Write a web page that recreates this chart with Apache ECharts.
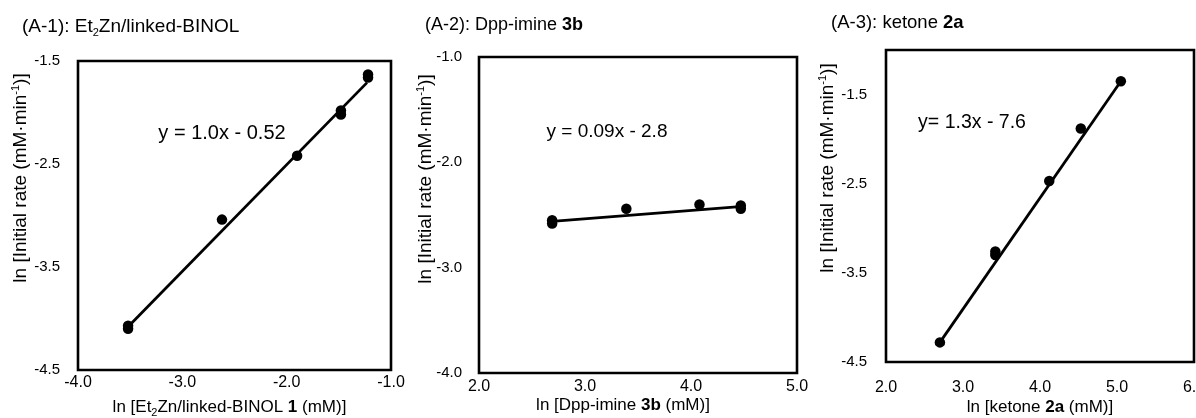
<!DOCTYPE html>
<html>
<head>
<meta charset="utf-8">
<script src="https://cdn.jsdelivr.net/npm/echarts@6/dist/echarts.min.js"></script>
<style>
html,body{margin:0;padding:0;background:#fff;}
#c{width:1196px;height:418px;}
</style>
</head>
<body>
<div id="c"></div>
<script>
// ---- Panel A-1: Et2Zn/linked-BINOL ----
const a1X = [-3.52, -3.52, -2.62, -1.90, -1.48, -1.48, -1.22, -1.22];
const a1Y = [-4.07, -4.10, -3.04, -2.42, -1.98, -2.02, -1.63, -1.66];
const a1FitX = [-3.52, -1.23];
const a1FitY = [-4.08, -1.71];
const a1XTicks = [-4.0, -3.0, -2.0, -1.0];
const a1YTicks = [-4.5, -3.5, -2.5, -1.5];

// ---- Panel A-2: Dpp-imine 3b ----
const a2X = [2.69, 2.69, 3.39, 4.08, 4.47, 4.47];
const a2Y = [-2.55, -2.58, -2.44, -2.40, -2.41, -2.44];
const a2FitX = [2.69, 4.46];
const a2FitY = [-2.56, -2.42];
const a2XTicks = [2.0, 3.0, 4.0, 5.0];
const a2YTicks = [-4.0, -3.0, -2.0, -1.0];

// ---- Panel A-3: ketone 2a ----
const a3X = [2.70, 3.42, 3.42, 4.12, 4.53, 5.05];
const a3Y = [-4.28, -3.26, -3.30, -2.47, -1.88, -1.35];
const a3FitX = [2.70, 5.05];
const a3FitY = [-4.28, -1.35];
const a3XTicks = [2.0, 3.0, 4.0, 5.0, 6.0];
const a3YTicks = [-4.5, -3.5, -2.5, -1.5];

const titles = ['(A-1): Et{sub|2}Zn/linked-BINOL', '(A-2): Dpp-imine {b|3b}', '(A-3): ketone {b|2a}'];
const equations = ['y = 1.0x - 0.52', 'y = 0.09x - 2.8', 'y= 1.3x - 7.6'];
const xNames = ['ln [Et{sub|2}Zn/linked-BINOL {b|1} (mM)]', 'ln [Dpp-imine {b|3b} (mM)]', 'ln [ketone {b|2a} (mM)]'];
const yName = 'ln [Initial rate (mM·min{sup|-1})]';

const FONT = '"Liberation Sans", Arial, Helvetica, sans-serif';
function richSized(fs) {
  return {
    sub: {fontSize: 11, lineHeight: 11, verticalAlign: 'bottom', fontFamily: FONT, color: '#000', fill: '#000'},
    sup: {fontSize: 11, lineHeight: 11, verticalAlign: 'top', fontFamily: FONT, color: '#000', fill: '#000'},
    b: {fontWeight: 'bold', fontSize: fs, fontFamily: FONT, color: '#000', fill: '#000'}
  };
}
function zip(a, b) { return a.map((v, i) => [v, b[i]]); }

const grids = [
  {left: 78, top: 61, width: 313, height: 309},
  {left: 479, top: 57, width: 318, height: 316},
  {left: 886, top: 50, width: 308, height: 312}
].map(g => Object.assign(g, {show: true, borderColor: '#000', borderWidth: 2.6, backgroundColor: 'transparent', outerBoundsMode: 'none', containLabel: false}));

function xAxis(i, min, max, ticks, name, gap, margin, pad) {
  return {
    type: 'value', gridIndex: i, min: min, max: max,
    axisLine: {show: false}, axisTick: {show: false}, splitLine: {show: false},
    axisLabel: {customValues: ticks, formatter: v => v.toFixed(1), color: '#000', fontSize: 16, fontFamily: FONT, margin: margin},
    name: name, nameLocation: 'middle', nameGap: gap, nameMoveOverlap: false,
    nameTextStyle: {color: '#000', fontSize: 17, fontFamily: FONT, lineHeight: 22, padding: pad, rich: richSized(17)}
  };
}
function yAxis(i, min, max, ticks, margin) {
  return {
    type: 'value', gridIndex: i, min: min, max: max,
    axisLine: {show: false}, axisTick: {show: false}, splitLine: {show: false},
    axisLabel: {customValues: ticks, formatter: v => v.toFixed(1), color: '#000', fontSize: 15, fontFamily: FONT, margin: margin}
  };
}
function scatter(i, xs, ys) {
  return {type: 'scatter', xAxisIndex: i, yAxisIndex: i, data: zip(xs, ys), symbol: 'circle', symbolSize: 10.5, itemStyle: {color: '#000', opacity: 1}, z: 3, silent: true};
}
function fit(i, xs, ys) {
  return {type: 'line', xAxisIndex: i, yAxisIndex: i, data: zip(xs, ys), showSymbol: false, lineStyle: {color: '#000', width: 2.8}, z: 2, silent: true};
}
function txt(x, y, text, fs, align, rot) {
  return {
    type: 'text', x: x, y: y, rotation: rot || 0, silent: true,
    style: {text: text, fill: '#000', fontSize: fs, fontFamily: FONT, align: align, verticalAlign: 'middle', lineHeight: 22, rich: richSized(fs)}
  };
}

const option = {
  animation: false,
  backgroundColor: '#fff',
  grid: grids,
  xAxis: [
    xAxis(0, -4.0, -1.0, a1XTicks, xNames[0], 26, 5, [0, 10, 0, 0]),
    xAxis(1, 2.0, 5.0, a2XTicks, xNames[1], 21, 6, [0, 30, 0, 0]),
    xAxis(2, 2.0, 6.0, a3XTicks, xNames[2], 34, 18, [0, 0, 0, 0])
  ],
  yAxis: [
    yAxis(0, -4.5, -1.5, a1YTicks, 18),
    yAxis(1, -4.0, -1.0, a2YTicks, 17),
    yAxis(2, -4.5, -1.0, a3YTicks, 19)
  ],
  series: [
    fit(0, a1FitX, a1FitY), scatter(0, a1X, a1Y),
    fit(1, a2FitX, a2FitY), scatter(1, a2X, a2Y),
    fit(2, a3FitX, a3FitY), scatter(2, a3X, a3Y)
  ],
  graphic: [
    txt(22, 27, titles[0], 19, 'left'),
    txt(425, 25, titles[1], 18, 'left'),
    txt(831, 23, titles[2], 18.5, 'left'),
    txt(222, 133, equations[0], 20, 'center'),
    txt(607, 132, equations[1], 19, 'center'),
    txt(972, 123, equations[2], 19.5, 'center'),
    txt(21, 178, yName, 19, 'center', Math.PI / 2),
    txt(426, 179, yName, 19, 'center', Math.PI / 2),
    txt(828, 168, yName, 19, 'center', Math.PI / 2)
  ]
};

const chart = echarts.init(document.getElementById('c'), null, {renderer: 'canvas'});
chart.setOption(option);
</script>
</body>
</html>
